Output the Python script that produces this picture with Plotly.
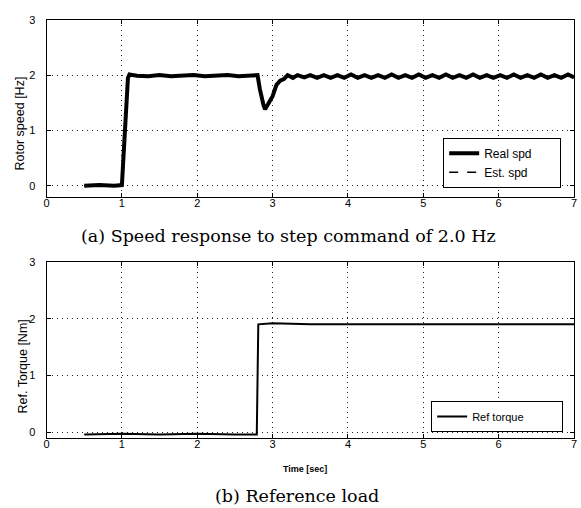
import plotly.graph_objects as go

# ---- data ----
time_speed = [0.5, 0.7, 0.9, 1.0, 1.02, 1.05, 1.08, 1.1, 1.2, 1.35, 1.5, 1.65, 1.8, 1.95,
              2.1, 2.25, 2.4, 2.55, 2.7, 2.8, 2.83, 2.86, 2.88, 2.9, 2.92, 2.95, 3.0, 3.05,
              3.1, 3.15, 3.2, 3.27, 3.33, 3.42, 3.5, 3.59, 3.68, 3.77, 3.86, 3.95, 4.04,
              4.13, 4.22, 4.31, 4.4, 4.49, 4.58, 4.67, 4.76, 4.85, 4.94, 5.03, 5.12, 5.21,
              5.3, 5.39, 5.48, 5.57, 5.66, 5.75, 5.84, 5.93, 6.02, 6.11, 6.2, 6.29, 6.38,
              6.47, 6.56, 6.65, 6.74, 6.83, 6.92, 7.0]
real_speed = [0.0, 0.01, 0.0, 0.01, 0.5, 1.3, 1.95, 2.01, 1.99, 1.98, 2.0, 1.98, 1.99, 2.0,
              1.98, 1.99, 2.0, 1.98, 1.99, 2.0, 1.75, 1.52, 1.45, 1.38, 1.42, 1.5, 1.62, 1.82,
              1.9, 1.93, 2.0, 1.95, 2.0, 1.96, 2.0, 1.95, 2.0, 1.95, 2.0, 1.95, 2.01,
              1.95, 2.0, 1.95, 2.0, 1.95, 2.01, 1.95, 2.0, 1.95, 2.01, 1.95, 2.0, 1.95,
              2.01, 1.95, 2.0, 1.95, 2.01, 1.95, 2.0, 1.95, 2.0, 1.95, 2.01, 1.95, 2.0,
              1.95, 2.01, 1.95, 2.0, 1.95, 2.01, 1.96]
est_speed = [0.0, 0.0, 0.01, 0.0, 0.48, 1.28, 1.94, 2.0, 1.98, 1.99, 1.99, 1.99, 1.98, 1.99,
             1.99, 1.98, 1.99, 1.99, 1.98, 1.99, 1.74, 1.5, 1.42, 1.4, 1.44, 1.52, 1.64, 1.8,
             1.89, 1.94, 2.0, 1.96, 2.0, 1.95, 2.0, 1.96, 2.0, 1.95, 2.0, 1.96, 2.0,
             1.96, 2.0, 1.95, 2.0, 1.96, 2.0, 1.96, 2.0, 1.95, 2.0, 1.96, 2.0, 1.96,
             2.0, 1.95, 2.0, 1.96, 2.0, 1.96, 2.0, 1.95, 2.0, 1.96, 2.0, 1.96, 2.0,
             1.95, 2.0, 1.96, 2.0, 1.96, 2.0, 1.96]

time_torque = [0.5, 1.0, 1.5, 2.0, 2.5, 2.79, 2.81, 2.9, 3.0, 3.5, 4.0, 4.5, 5.0, 5.5,
               6.0, 6.5, 7.0]
ref_torque = [-0.04, -0.03, -0.04, -0.03, -0.04, -0.04, 1.90, 1.91, 1.92, 1.90, 1.90,
              1.91, 1.90, 1.90, 1.91, 1.90, 1.90]

x_ticks = [0, 1, 2, 3, 4, 5, 6, 7]
y_ticks = [0, 1, 2, 3]

W, H = 581, 508
SANS = "Liberation Sans, Arial, sans-serif"
SERIF = "DejaVu Serif, serif"
PAD = "\u00a0" * 7
PAD2 = "\u00a0" * 11

fig = go.Figure()
fig.add_trace(go.Scatter(x=time_speed, y=real_speed, mode="lines", name="Real spd" + PAD,
                         line=dict(color="black", width=4), xaxis="x", yaxis="y",
                         legend="legend"))
fig.add_trace(go.Scatter(x=time_speed, y=est_speed, mode="lines", name="Est. spd" + PAD,
                         line=dict(color="black", width=1.5, dash="dash"), xaxis="x", yaxis="y",
                         legend="legend"))
fig.add_trace(go.Scatter(x=time_torque, y=ref_torque, mode="lines", name="Ref torque" + PAD2,
                         line=dict(color="black", width=2), xaxis="x2", yaxis="y2",
                         legend="legend2"))

def px_x(p):
    return p / W

def px_y(p):
    return 1 - p / H

axis_common = dict(showline=True, linecolor="black", linewidth=1, mirror="ticks",
                   ticks="inside", ticklen=4, tickcolor="black",
                   showgrid=True, gridcolor="#222", gridwidth=1, griddash="1px,4px",
                   zeroline=False, tickfont=dict(family=SANS, size=11, color="black"))
xax = dict(axis_common, ticklabelstandoff=-4)
yax = dict(axis_common, ticklabelstandoff=8)

fig.update_layout(
    width=W, height=H,
    margin=dict(l=0, r=0, t=0, b=0),
    paper_bgcolor="white", plot_bgcolor="white",
    font=dict(family=SANS, color="black"),
    xaxis=dict(domain=[px_x(44), px_x(577)], range=[0, 7], tickvals=x_ticks,
               anchor="y", **xax),
    yaxis=dict(domain=[px_y(193), px_y(14)], range=[-0.2, 3], tickvals=y_ticks,
               anchor="x", **yax),
    xaxis2=dict(domain=[px_x(44), px_x(577)], range=[0, 7], tickvals=x_ticks,
                anchor="y2", **xax),
    yaxis2=dict(domain=[px_y(437), px_y(259)], range=[-0.1, 3], tickvals=y_ticks,
                anchor="x2", **yax),
    legend=dict(x=px_x(564), y=px_y(184), xanchor="right", yanchor="bottom",
                bgcolor="white", bordercolor="black", borderwidth=1,
                font=dict(family=SANS, size=12, color="black"), tracegroupgap=0),
    legend2=dict(x=px_x(566), y=px_y(431), xanchor="right", yanchor="bottom",
                 bgcolor="white", bordercolor="black", borderwidth=1,
                 font=dict(family=SANS, size=11, color="black")),
    showlegend=True,
)

annotations = [
    dict(text="Rotor speed [Hz]", x=px_x(17), y=px_y(119), textangle=-90,
         font=dict(family=SANS, size=12.5, color="black")),
    dict(text="Ref. Torque [Nm]", x=px_x(20), y=px_y(365), textangle=-90,
         font=dict(family=SANS, size=12.5, color="black")),
    dict(text="<b>Time [sec]</b>", x=px_x(305), y=px_y(469),
         font=dict(family=SANS, size=9, color="black")),
    dict(text="(a) Speed response to step command of 2.0 Hz", x=px_x(288), y=px_y(233),
         font=dict(family=SERIF, size=17.5, color="black")),
    dict(text="(b) Reference load", x=px_x(297), y=px_y(496),
         font=dict(family=SERIF, size=17.5, color="black")),
]
for a in annotations:
    a.update(xref="paper", yref="paper", showarrow=False, xanchor="center", yanchor="middle")
fig.update_layout(annotations=annotations)

fig.write_html("out.html")
